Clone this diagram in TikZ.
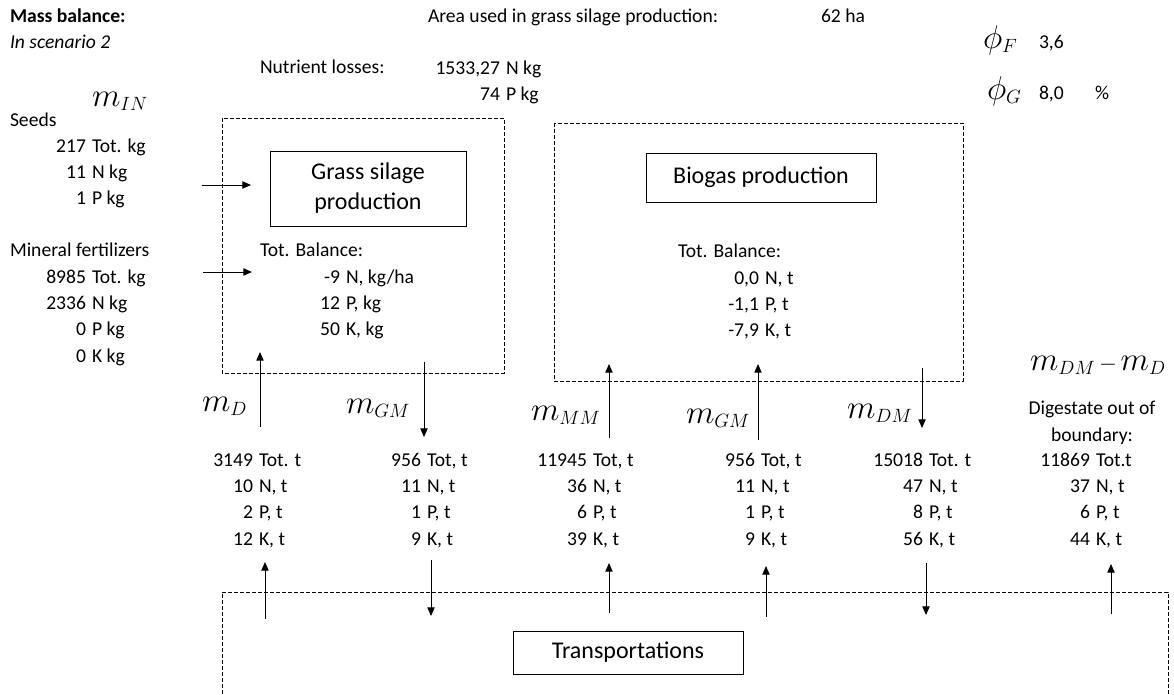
\documentclass[tikz,border=0pt]{standalone}
\usepackage{fontspec}
\setmainfont{Carlito}
\usetikzlibrary{arrows.meta}

\newcommand\basefont{\fontsize{14.7}{17}\selectfont}
% subscript set at a fixed smaller size
\newcommand\msub[1]{\mbox{\fontsize{14.5}{15}\selectfont$#1$}}
% narrow minus for the difference of two flows
\newcommand\smallminus{\mbox{\fontsize{16}{16}\selectfont$-$}}

% one column of values: name, right edge of the numbers, first row, list of number/unit
\newcommand\valcol[4]{%
  \foreach \nv/\uv [count=\k] in {#4} {
    \node[rt] (#1-n\k) at (#2, #3+26.3*\k-26.3) {\nv};
    \node[lt] (#1-u\k) at (#2+6, #3+26.3*\k-26.3) {\uv};
  }}

\begin{document}
\begin{tikzpicture}[x=0.75pt,y=-0.75pt,
  every node/.style={inner sep=0pt, outer sep=0pt},
  txt/.style={font=\basefont},
  lt/.style={txt, anchor=mid west, yshift=-2.3pt},
  rt/.style={txt, anchor=mid east, yshift=-2.3pt},
  sym/.style={font=\fontsize{27}{32}\selectfont, anchor=base west},
  procbox/.style={draw, line width=0.75pt, align=center,
    font=\fontsize{18}{22.5}\selectfont},
  boundary/.style={draw, line width=0.75pt, dash pattern=on 3pt off 1.5pt},
  flow/.style={line width=0.75pt, -{Triangle[length=6.5pt,width=5.5pt]}},
]
\useasboundingbox (0,0) rectangle (1174,694);

% header
\node[lt, font=\basefont\bfseries] (title) at (10,16) {Mass balance:};
\node[lt, font=\basefont\itshape] (scen) at (10,42) {In scenario 2};
\node[lt] (area) at (428,16) {Area used in grass silage production:};
\node[lt] (areav) at (821,16) {62 ha};
\node[sym] (phiF) at (983,48) {$\phi_{\msub{F}}$};
\node[lt] (phiFv) at (1039,42) {3,6};
\node[sym] (phiG) at (987,99) {$\phi_{\msub{G}}$};
\node[lt] (phiGv) at (1039,93) {8,0};
\node[lt] (pct) at (1095,93) {\%};

% nutrient losses
\node[lt] (loss) at (260,67) {Nutrient losses:};
\valcol{loss}{500}{68}{{1533,27}/{N kg}, 74/{P kg}}

% inputs
\node[sym] (min) at (92,106) {$m_{\msub{IN}}$};
\node[lt] (seeds) at (10,120) {Seeds};
\valcol{sd}{86}{146}{217/{Tot. kg}, 11/{N kg}, 1/{P kg}}
\node[lt] (fert) at (10,250) {Mineral fertilizers};
\valcol{mf}{86}{277}{8985/{Tot. kg}, 2336/{N kg}, 0/{P kg}, 0/{K kg}}

% system boundaries
\draw[boundary] (222,118) rectangle (504,373);
\draw[boundary] (554,123) rectangle (963,381);
\draw[boundary] (222,694) -- (222,592) -- (1168,592) -- (1168,694);

% processes
\node[procbox, minimum width=147pt, minimum height=56.25pt] (grass) at (368,188.5)
  {Grass silage\\production};
\node[procbox, minimum width=172.5pt, minimum height=36.75pt] (biogas) at (761,177.5)
  {Biogas production};
\node[procbox, minimum width=172.5pt, minimum height=32.25pt] (trans) at (628,652.5)
  {Transportations};

% balances
\node[lt] (bal1) at (260,250) {Tot. Balance:};
\valcol{ba}{340}{277}{-9/{N, kg/ha}, 12/{P, kg}, 50/{K, kg}}
\node[lt] (bal2) at (678,251) {Tot. Balance:};
\valcol{bb}{759}{278}{{0,0}/{N, t}, {-1,1}/{P, t}, {-7,9}/{K, t}}

% input arrows
\coordinate (sdA) at (202,185); \coordinate (sdB) at (251,185);
\draw[flow] (sdA) -- (sdB);
\coordinate (mfA) at (203,272); \coordinate (mfB) at (252,272);
\draw[flow] (mfA) -- (mfB);

% flows between processes and the data row
\coordinate (f1a) at (260,427); \coordinate (f1b) at (260,352);
\draw[flow] (f1a) -- (f1b);
\coordinate (f2a) at (424,362); \coordinate (f2b) at (424,437);
\draw[flow] (f2a) -- (f2b);
\coordinate (f3a) at (609,438); \coordinate (f3b) at (609,364);
\draw[flow] (f3a) -- (f3b);
\coordinate (f4a) at (758,440); \coordinate (f4b) at (758,364);
\draw[flow] (f4a) -- (f4b);
\coordinate (f5a) at (922,368); \coordinate (f5b) at (922,428);
\draw[flow] (f5a) -- (f5b);

% flow symbols
\node[sym] (sD) at (202,411) {$m_{\msub{D}}$};
\node[sym] (sGM) at (346,413) {$m_{\msub{GM}}$};
\node[sym] (sMM) at (531,420) {$m_{\msub{MM}}$};
\node[sym] (sGM2) at (686,423) {$m_{\msub{GM}}$};
\node[sym] (sDM) at (847,418) {$m_{\msub{DM}}$};
\node[sym] (sOut) at (1030,370)
  {$m_{\msub{DM}}\mkern2mu\smallminus\mkern2mu m_{\msub{D}}$};
\node[txt, align=center, font=\fontsize{14.7}{20}\selectfont] (dig) at (1092,423)
  {Digestate out of\\boundary:};

% flow values
\valcol{c1}{253}{460}{3149/{Tot. t}, 10/{N, t}, 2/{P, t}, 12/{K, t}}
\valcol{c2}{421}{460}{956/{Tot, t}, 11/{N, t}, 1/{P, t}, 9/{K, t}}
\valcol{c3}{587}{460}{11945/{Tot, t}, 36/{N, t}, 6/{P, t}, 39/{K, t}}
\valcol{c4}{755}{460}{956/{Tot, t}, 11/{N, t}, 1/{P, t}, 9/{K, t}}
\valcol{c5}{923}{460}{15018/{Tot. t}, 47/{N, t}, 8/{P, t}, 56/{K, t}}
\valcol{c6}{1090}{460}{11869/{Tot.t}, 37/{N, t}, 6/{P, t}, 44/{K, t}}

% transport arrows
\coordinate (t1a) at (265,619); \coordinate (t1b) at (265,562);
\draw[flow] (t1a) -- (t1b);
\coordinate (t2a) at (431,560); \coordinate (t2b) at (431,616);
\draw[flow] (t2a) -- (t2b);
\coordinate (t3a) at (609,613); \coordinate (t3b) at (609,563);
\draw[flow] (t3a) -- (t3b);
\coordinate (t4a) at (766,617); \coordinate (t4b) at (766,566);
\draw[flow] (t4a) -- (t4b);
\coordinate (t5a) at (926,563); \coordinate (t5b) at (926,615);
\draw[flow] (t5a) -- (t5b);
\coordinate (t6a) at (1111,614); \coordinate (t6b) at (1111,564);
\draw[flow] (t6a) -- (t6b);
\end{tikzpicture}
\end{document}
